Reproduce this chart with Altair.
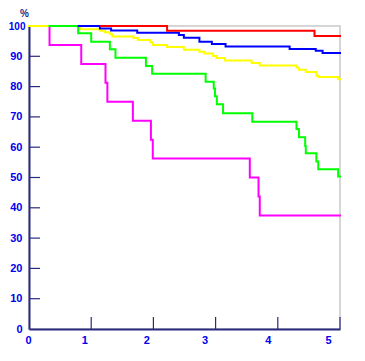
import altair as alt
import pandas as pd

# ---- data ----
magenta_t = [0, 0.33, 0.84, 1.23, 1.26, 1.67, 1.96, 1.99, 3.55, 3.69, 3.71, 5.0]
magenta_s = [100, 93.75, 87.5, 81.25, 75, 68.75, 62.5, 56.25, 50, 43.75, 37.5, 37.5]

yellow_t = [0, 0.82, 1.15, 1.22, 1.30, 1.34, 1.68, 1.75, 1.95, 1.99, 2.22, 2.49, 2.74,
            2.82, 2.96, 3.01, 3.15, 3.58, 3.71, 4.30, 4.34, 4.45, 4.62, 4.66, 4.97, 5.0]
yellow_s = [100, 98.9, 98.4, 97.9, 97.3, 96.5, 96.0, 95.4, 94.6, 93.7, 93.1, 92.2, 91.5,
            90.9, 90.1, 89.4, 88.6, 87.8, 87.0, 86.3, 85.6, 84.8, 83.6, 83.2, 82.4, 82.4]

green_t = [0.33, 0.79, 1.0, 1.30, 1.39, 1.88, 1.98, 2.84, 2.97, 2.99, 3.02, 3.12, 3.59,
           4.30, 4.34, 4.44, 4.45, 4.62, 4.65, 4.97, 5.0]
green_s = [100, 97.6, 94.8, 92.3, 89.5, 86.8, 84.2, 81.6, 79.4, 76.8, 74.2, 71.2, 68.4,
           66.0, 63.3, 60.4, 58.0, 55.3, 52.7, 50.3, 50.3]

blue_t = [0.8, 1.14, 1.32, 1.74, 2.41, 2.49, 2.74, 2.94, 3.16, 4.19, 4.61, 4.72, 5.0]
blue_s = [100, 99.2, 98.5, 97.8, 97.0, 96.1, 94.8, 94.1, 93.2, 92.4, 91.8, 91.1, 91.1]

red_t = [1.16, 2.22, 4.59, 5.0]
red_s = [100, 98.4, 96.7, 96.7]

series = [
    ("magenta", magenta_t, magenta_s, "#ff00ff"),
    ("yellow", yellow_t, yellow_s, "#ffff00"),
    ("green", green_t, green_s, "#00ff00"),
    ("blue", blue_t, blue_s, "#0000ff"),
    ("red", red_t, red_s, "#ff0000"),
]

x_ticks = [1, 2, 3, 4, 5]
y_ticks = [10, 20, 30, 40, 50, 60, 70, 80, 90, 100]
x_labels = [0, 1, 2, 3, 4, 5]
y_labels = [0, 10, 20, 30, 40, 50, 60, 70, 80, 90, 100]

NAVY = "#2a2a80"
LABEL = "#0000ee"
FONT = "Liberation Sans"

x_scale = alt.Scale(domain=[0, 5], nice=False, zero=False)
y_scale = alt.Scale(domain=[0, 100], nice=False)

x_axis = alt.Axis(
    values=x_labels, grid=False, ticks=False, tickSize=0,
    domainColor=NAVY, domainWidth=2,
    labelColor=LABEL, labelFont=FONT, labelFontSize=11, labelFontWeight="bold",
    labelPadding=5, labelFlush=False,
    labelOffset={"condition": [
        {"test": "datum.value == 1", "value": -7},
        {"test": "datum.value == 2", "value": -7},
        {"test": "datum.value == 3", "value": -11},
        {"test": "datum.value == 4", "value": -10},
        {"test": "datum.value == 5", "value": -12},
    ], "value": -1},
    title=None,
)
y_axis = alt.Axis(
    values=y_labels, grid=False, ticks=False, tickSize=0,
    domainColor=NAVY, domainWidth=2,
    labelColor=LABEL, labelFont=FONT, labelFontWeight="bold",
    labelFontSize={"condition": {"test": "datum.value == 100", "value": 10}, "value": 11},
    labelPadding={"condition": {"test": "datum.value == 100", "value": 4}, "value": 7},
    labelFlush=False,
    title="%", titleAngle=0, titleX=-5, titleY=-13, titleAlign="center",
    titleBaseline="middle", titleColor=NAVY, titleFont=FONT, titleFontSize=10,
    titleFontWeight="bold",
)

layers = []
for name, ts, ss, col in series:
    df = pd.DataFrame({"t": ts, "s": ss, "i": list(range(len(ts)))})
    layers.append(
        alt.Chart(df).mark_line(interpolate="step-after", color=col, strokeWidth=2,
                                strokeCap="square").encode(
            x=alt.X("t:Q", scale=x_scale, axis=x_axis),
            y=alt.Y("s:Q", scale=y_scale, axis=y_axis),
            order="i:Q",
        )
    )

ytick_df = pd.DataFrame({"v": y_ticks})
xtick_df = pd.DataFrame({"v": x_ticks})
ytick_layer = alt.Chart(ytick_df).mark_rule(color=NAVY, strokeWidth=1.2).encode(
    y=alt.Y("v:Q", scale=y_scale, axis=y_axis), x=alt.value(0), x2=alt.value(11)
)
xtick_layer = alt.Chart(xtick_df).mark_rule(color=NAVY, strokeWidth=1.2).encode(
    x=alt.X("v:Q", scale=x_scale, axis=x_axis), y=alt.value(303), y2=alt.value(291)
)

chart = alt.layer(ytick_layer, xtick_layer, *layers).properties(
    width=311, height=303,
    autosize=alt.AutoSizeParams(type="none"),
    padding={"left": 21, "top": 18, "right": 17, "bottom": 24},
    background="white",
).configure_view(stroke="#d6d6d6", strokeWidth=2)

chart.save("out.html", embed_options={"renderer": "svg", "actions": False})
